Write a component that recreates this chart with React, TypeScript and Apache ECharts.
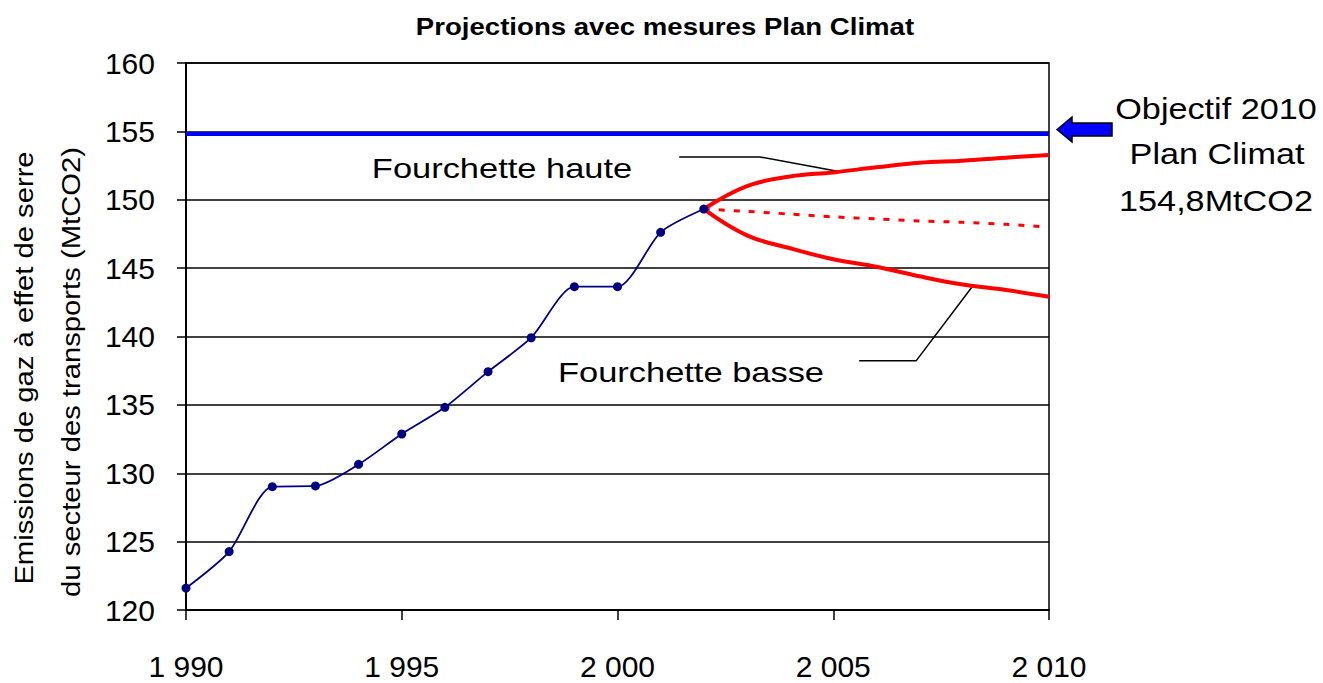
import React, { useEffect, useRef } from "react";
import * as echarts from "echarts";

const years = [1990, 1991, 1992, 1993, 1994, 1995, 1996, 1997, 1998, 1999, 2000, 2001, 2002];
const emissions = [121.6, 124.27, 129.02, 129.07, 130.65, 132.87, 134.82, 137.43, 139.91, 143.64, 143.64, 147.62, 149.32];

const projYears = [2002, 2003, 2004, 2005, 2006, 2007, 2008, 2009, 2010];
const highRange = [149.32, 151.0, 151.7, 152.0, 152.37, 152.71, 152.86, 153.08, 153.27];
const midRange = [149.32, 149.15, 148.95, 148.75, 148.6, 148.45, 148.35, 148.2, 148.0];
const lowRange = [149.32, 147.4, 146.45, 145.65, 145.1, 144.4, 143.8, 143.4, 142.9];

const targetYears = [1990, 2010];
const targetValue = 154.8;

const leaderHaute = [[2001.43, 153.13], [2003.3, 153.13], [2005.16, 152.05]];
const leaderBasse = [[2005.6, 138.22], [2006.92, 138.22], [2008.25, 143.77]];

const yTicks = { min: 120, max: 160, interval: 5 };
const xTicks = { min: 1990, max: 2010, interval: 5 };

const titleText = "Projections avec mesures Plan Climat";
const yNameLines = ["Emissions de gaz à effet de serre", "du secteur des transports (MtCO2)"];
const targetLabel = ["Objectif 2010", "Plan Climat", "154,8MtCO2"];
const labelHaute = "Fourchette haute";
const labelBasse = "Fourchette basse";

const FONT = '"Liberation Sans", Arial, sans-serif';

const fmtYear = (v: number) => `${Math.floor(v / 1000)} ${String(v % 1000).padStart(3, "0")}`;

export default function App() {
  const ref = useRef<HTMLDivElement>(null);
  useEffect(() => {
    if (!ref.current) return;
    const chart = echarts.init(ref.current, undefined, { renderer: "svg" });
    const txt = (text: string, x: number, y: number, size: number, sx: number, extra: any = {}) => ({
      type: "text",
      x,
      y,
      scaleX: sx,
      silent: true,
      ...extra,
      style: {
        text,
        fontSize: size,
        fontFamily: FONT,
        fill: "#000",
        align: "center",
        verticalAlign: "middle",
        ...(extra.style || {}),
      },
    });
    chart.setOption({
      animation: false,
      backgroundColor: "#fff",
      grid: {
        left: 186,
        right: 274,
        top: 63,
        bottom: 73,
        show: true,
        borderColor: "#000",
        borderWidth: 1.5,
        containLabel: false,
      },
      xAxis: {
        type: "value",
        min: xTicks.min,
        max: xTicks.max,
        interval: xTicks.interval,
        axisLine: { show: true, lineStyle: { color: "#000", width: 2 } },
        axisTick: { show: true, length: 10, lineStyle: { color: "#000", width: 1.5 } },
        axisLabel: {
          formatter: (v: number) => fmtYear(v),
          fontSize: 30,
          fontFamily: FONT,
          color: "#000",
          margin: 41,
        },
        splitLine: { show: false },
      },
      yAxis: {
        type: "value",
        min: yTicks.min,
        max: yTicks.max,
        interval: yTicks.interval,
        axisLine: { show: true, lineStyle: { color: "#000", width: 2 } },
        axisTick: { show: true, length: 9, lineStyle: { color: "#000", width: 1.5 } },
        axisLabel: { fontSize: 30, fontFamily: FONT, color: "#000", margin: 31 },
        splitLine: { show: true, lineStyle: { color: "#000", width: 1.5 } },
      },
      series: [
        {
          type: "line",
          data: targetYears.map((y) => [y, targetValue]),
          symbol: "none",
          lineStyle: { color: "#0000ff", width: 4 },
          silent: true,
          z: 3,
        },
        {
          type: "line",
          data: leaderHaute,
          symbol: "none",
          lineStyle: { color: "#000", width: 1.5 },
          silent: true,
          z: 2,
        },
        {
          type: "line",
          data: leaderBasse,
          symbol: "none",
          lineStyle: { color: "#000", width: 1.5 },
          silent: true,
          z: 2,
        },
        {
          type: "line",
          data: projYears.map((y, i) => [y, midRange[i]]),
          symbol: "none",
          smooth: 0.3,
          lineStyle: { color: "#ff0000", width: 3, type: [6, 9] },
          z: 4,
        },
        {
          type: "line",
          data: projYears.map((y, i) => [y, highRange[i]]),
          symbol: "none",
          smooth: 0.4,
          lineStyle: { color: "#ff0000", width: 4 },
          z: 4,
        },
        {
          type: "line",
          data: projYears.map((y, i) => [y, lowRange[i]]),
          symbol: "none",
          smooth: 0.4,
          lineStyle: { color: "#ff0000", width: 4 },
          z: 4,
        },
        {
          type: "line",
          data: years.map((y, i) => [y, emissions[i]]),
          symbol: "circle",
          symbolSize: 9,
          smooth: 0.25,
          itemStyle: { color: "#000080" },
          lineStyle: { color: "#000080", width: 1.8 },
          z: 5,
        },
      ],
      graphic: [
        txt(titleText, 665, 27, 23, 1.2, { style: { fontWeight: "bold" } }),
        txt(yNameLines[0], 24, 368, 25, 1.17, { rotation: Math.PI / 2 }),
        txt(yNameLines[1], 71, 372, 25, 1.17, { rotation: Math.PI / 2 }),
        txt(labelHaute, 502, 169, 28, 1.23),
        txt(labelBasse, 691, 373, 28, 1.23),
        txt(targetLabel[0], 1216, 109, 30, 1.14),
        txt(targetLabel[1], 1217, 154, 30, 1.14),
        txt(targetLabel[2], 1216, 201, 30, 1.14),
        {
          type: "polygon",
          silent: true,
          shape: {
            points: [
              [1057, 129.5],
              [1072, 117],
              [1072, 123],
              [1112, 123],
              [1112, 136],
              [1072, 136],
              [1072, 142],
            ],
          },
          style: { fill: "#0000ff", stroke: "#000", lineWidth: 1.5 },
        },
      ],
    });
    return () => chart.dispose();
  }, []);
  return (
    <div
      ref={ref}
      style={{ position: "fixed", left: 0, top: 0, width: 1323, height: 683, background: "#fff" }}
    />
  );
}
